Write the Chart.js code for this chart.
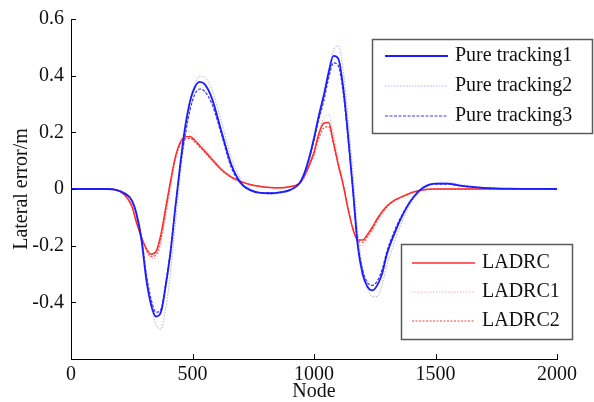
<!DOCTYPE html>
<html>
<head>
<meta charset="utf-8">
<script src="https://cdn.jsdelivr.net/npm/chart.js@4/dist/chart.umd.min.js"></script>
<style>
  html, body { margin: 0; padding: 0; background: #fff; }
  #wrap { width: 594px; height: 402px; position: relative; }
</style>
</head>
<body>
<div id="wrap"><canvas id="c" width="594" height="402"></canvas></div>
<script>
// ---- Data ----
const nodes = [0, 150, 180, 220, 250, 270, 290, 310, 330, 350, 370, 390, 410, 430, 450, 470, 490, 510, 530, 550,
  580, 620, 660, 700, 740, 780, 820, 860, 900, 940, 960, 980, 1000, 1020, 1040, 1060, 1080, 1100, 1120, 1140,
  1160, 1180, 1200, 1220, 1240, 1260, 1280, 1300, 1330, 1360, 1400, 1450, 1500, 1550, 1600, 1700, 1800, 2000];

const pureTracking1 = [0, 0, -0.002, -0.015, -0.04, -0.09, -0.18, -0.32, -0.41, -0.45, -0.435, -0.34, -0.22, -0.06, 0.09, 0.22, 0.31, 0.36, 0.378, 0.37,
  0.32, 0.20, 0.085, 0.02, -0.005, -0.014, -0.015, -0.012, -0.004, 0.02, 0.055, 0.11, 0.18, 0.26, 0.33, 0.41, 0.47, 0.46, 0.36, 0.19,
  0.0, -0.2, -0.30, -0.345, -0.358, -0.34, -0.30, -0.23, -0.16, -0.10, -0.04, 0.005, 0.019, 0.019, 0.012, 0.004, 0.001, 0];

const pureTracking2 = [0, 0, -0.002, -0.013, -0.035, -0.08, -0.16, -0.30, -0.41, -0.48, -0.495, -0.42, -0.29, -0.12, 0.05, 0.19, 0.30, 0.37, 0.398, 0.395,
  0.35, 0.235, 0.11, 0.035, 0.0, -0.014, -0.018, -0.015, -0.006, 0.015, 0.045, 0.10, 0.17, 0.25, 0.33, 0.42, 0.49, 0.505, 0.42, 0.25,
  0.06, -0.15, -0.28, -0.35, -0.38, -0.38, -0.34, -0.27, -0.19, -0.12, -0.05, -0.002, 0.02, 0.024, 0.016, 0.005, 0.001, 0];

const pureTracking3 = [0, 0, -0.002, -0.015, -0.04, -0.09, -0.17, -0.30, -0.39, -0.435, -0.425, -0.33, -0.21, -0.06, 0.08, 0.19, 0.28, 0.335, 0.353, 0.345,
  0.30, 0.19, 0.075, 0.018, -0.005, -0.013, -0.014, -0.011, -0.004, 0.02, 0.052, 0.105, 0.17, 0.245, 0.31, 0.39, 0.445, 0.435, 0.34, 0.18,
  -0.005, -0.19, -0.285, -0.33, -0.34, -0.325, -0.285, -0.22, -0.15, -0.095, -0.038, 0.005, 0.017, 0.017, 0.011, 0.004, 0.001, 0];

const ladrc = [0, 0, -0.002, -0.02, -0.06, -0.12, -0.17, -0.21, -0.23, -0.22, -0.16, -0.065, 0.03, 0.115, 0.165, 0.184, 0.185, 0.172, 0.153, 0.134,
  0.105, 0.068, 0.042, 0.026, 0.015, 0.009, 0.005, 0.004, 0.008, 0.02, 0.045, 0.085, 0.13, 0.195, 0.232, 0.235, 0.165, 0.085, 0.015, -0.07,
  -0.14, -0.18, -0.18, -0.16, -0.135, -0.105, -0.08, -0.06, -0.04, -0.028, -0.013, -0.003, 0, 0, 0, 0, 0, 0];

const ladrc1 = [0, 0, -0.002, -0.018, -0.055, -0.115, -0.17, -0.22, -0.245, -0.245, -0.19, -0.095, 0.01, 0.105, 0.172, 0.2, 0.203, 0.187, 0.166, 0.145,
  0.114, 0.073, 0.045, 0.028, 0.016, 0.009, 0.005, 0.004, 0.007, 0.018, 0.04, 0.08, 0.13, 0.20, 0.25, 0.262, 0.195, 0.105, 0.025, -0.065,
  -0.145, -0.19, -0.20, -0.178, -0.15, -0.118, -0.09, -0.067, -0.045, -0.03, -0.015, -0.004, 0, 0, 0, 0, 0, 0];

const ladrc2 = [0, 0, -0.002, -0.02, -0.058, -0.118, -0.17, -0.215, -0.238, -0.232, -0.175, -0.08, 0.02, 0.108, 0.158, 0.177, 0.179, 0.166, 0.148, 0.13,
  0.102, 0.066, 0.041, 0.025, 0.015, 0.009, 0.005, 0.004, 0.008, 0.019, 0.042, 0.08, 0.122, 0.18, 0.215, 0.22, 0.16, 0.085, 0.018, -0.068,
  -0.14, -0.183, -0.188, -0.168, -0.142, -0.11, -0.085, -0.063, -0.042, -0.029, -0.014, -0.003, 0, 0, 0, 0, 0, 0];

const xTicks = [0, 500, 1000, 1500, 2000];
const yTicks = [-0.6, -0.4, -0.2, 0, 0.2, 0.4, 0.6];
const seriesNames = ['Pure tracking1', 'Pure tracking2', 'Pure tracking3', 'LADRC', 'LADRC1', 'LADRC2'];
const xTitle = 'Node';
const yTitle = 'Lateral error/m';

// ---- Build chart ----
const FONT = "'Liberation Serif', 'Times New Roman', serif";
const toPts = arr => nodes.map((n, i) => ({ x: n, y: arr[i] }));

const styles = [
  { borderColor: '#1c1cff', borderWidth: 1.8, borderDash: [] },
  { borderColor: 'rgba(130,130,255,0.65)', borderWidth: 1, borderDash: [1.5, 1.5] },
  { borderColor: '#3535ff', borderWidth: 1.2, borderDash: [3, 1.5] },
  { borderColor: '#ff2a2a', borderWidth: 1.5, borderDash: [] },
  { borderColor: 'rgba(255,150,150,0.75)', borderWidth: 1, borderDash: [1.5, 1.5] },
  { borderColor: '#ff3b3b', borderWidth: 1.2, borderDash: [2, 1.5] }
];
const seriesData = [pureTracking1, pureTracking2, pureTracking3, ladrc, ladrc1, ladrc2];

const datasets = seriesData.map((arr, i) => Object.assign({
  label: seriesNames[i],
  data: toPts(arr),
  pointRadius: 0,
  fill: false,
  cubicInterpolationMode: 'monotone'
}, styles[i]));

const legendPlugin = {
  id: 'twoLegends',
  afterDraw(chart) {
    const ctx = chart.ctx;
    // inward tick marks
    const xs = chart.scales.x, ys = chart.scales.y, ca = chart.chartArea;
    ctx.save();
    ctx.strokeStyle = '#000';
    ctx.lineWidth = 1;
    ctx.beginPath();
    xTicks.forEach(v => {
      const px = Math.round(xs.getPixelForValue(v)) + 0.5;
      ctx.moveTo(px, ca.bottom); ctx.lineTo(px, ca.bottom - 5);
    });
    yTicks.forEach(v => {
      const py = Math.round(ys.getPixelForValue(v)) + 0.5;
      ctx.moveTo(ca.left, py); ctx.lineTo(ca.left + 5, py);
    });
    ctx.stroke();

    const boxes = [
      { x: 372, y: 39, w: 220, h: 94, lineX0: 385, lineX1: 448, textX: 455, rows: [0, 1, 2], y0: 56, dy: 30 },
      { x: 401, y: 244, w: 171, h: 95, lineX0: 412, lineX1: 475, textX: 482, rows: [3, 4, 5], y0: 263, dy: 29 }
    ];
    boxes.forEach(b => {
      ctx.setLineDash([]);
      ctx.fillStyle = '#fff';
      ctx.fillRect(b.x, b.y, b.w, b.h);
      ctx.strokeStyle = '#5a5a5a';
      ctx.lineWidth = 1.5;
      ctx.strokeRect(b.x + 0.5, b.y + 0.5, b.w, b.h);
      b.rows.forEach((di, k) => {
        const ds = chart.data.datasets[di];
        const y = b.y0 + k * b.dy;
        ctx.beginPath();
        ctx.strokeStyle = ds.borderColor;
        ctx.lineWidth = ds.borderWidth;
        ctx.setLineDash(ds.borderDash || []);
        ctx.moveTo(b.lineX0, y); ctx.lineTo(b.lineX1, y);
        ctx.stroke();
        ctx.setLineDash([]);
        ctx.fillStyle = '#111';
        ctx.font = '20px ' + FONT;
        ctx.textBaseline = 'middle';
        ctx.textAlign = 'left';
        ctx.fillText(ds.label, b.textX, y);
      });
    });
    ctx.restore();
  }
};

new Chart(document.getElementById('c'), {
  type: 'line',
  data: { datasets },
  options: {
    responsive: false,
    animation: false,
    devicePixelRatio: 1,
    layout: { padding: { left: 0, right: 37, top: 19, bottom: 0 } },
    plugins: { legend: { display: false }, tooltip: { enabled: false } },
    scales: {
      x: {
        type: 'linear',
        min: 0, max: 2000,
        afterFit: s => { s.height = 43; },
        afterBuildTicks: s => { s.ticks = xTicks.map(v => ({ value: v })); },
        grid: { display: false, drawTicks: false },
        border: { display: true, color: '#000', width: 1 },
        ticks: {
          color: '#111', font: { family: FONT, size: 20, lineHeight: 1 }, padding: 6, maxRotation: 0,
          callback: v => String(Math.round(v))
        },
        title: { display: true, text: xTitle, color: '#111', font: { family: FONT, size: 20, lineHeight: 1 }, padding: { top: 0, bottom: 0 } }
      },
      y: {
        type: 'linear',
        min: -0.6, max: 0.6,
        afterFit: s => { s.width = 71; },
        afterBuildTicks: s => { s.ticks = yTicks.map(v => ({ value: v })); },
        grid: { display: false, drawTicks: false },
        border: { display: true, color: '#000', width: 1 },
        ticks: {
          color: '#111', font: { family: FONT, size: 20, lineHeight: 1 }, padding: 7,
          callback: v => {
            if (v < -0.55) return '';
            if (Math.abs(v) < 1e-9) return '0';
            return String(Number(v.toFixed(1)));
          }
        },
        title: { display: true, text: yTitle, color: '#111', font: { family: FONT, size: 20, lineHeight: 1 }, padding: { top: 12, bottom: 0 } }
      }
    }
  },
  plugins: [legendPlugin]
});
</script>
</body>
</html>
